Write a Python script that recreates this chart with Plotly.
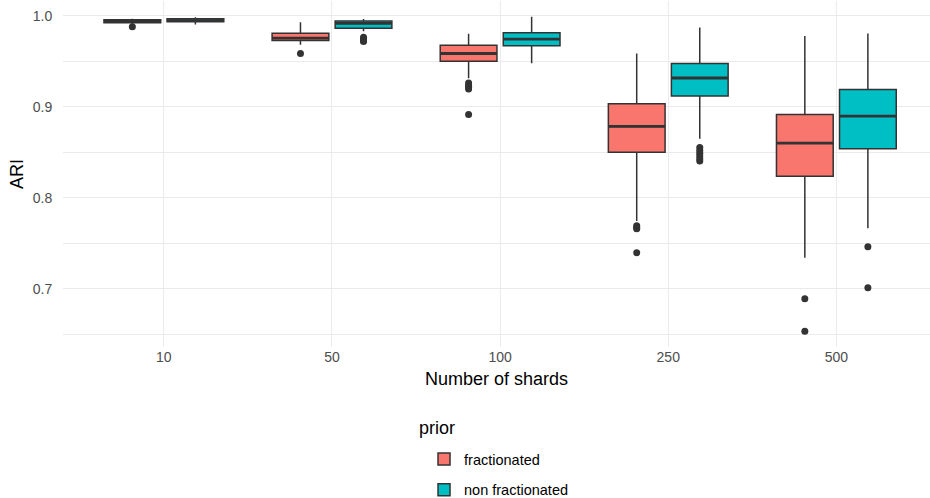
import plotly.graph_objects as go

# ARI summary statistics per number of shards, for each prior
shards = ["10", "50", "100", "250", "500"]

frac_q1 = [0.9922, 0.9727, 0.9500, 0.8501, 0.8236]
frac_median = [0.9937, 0.9754, 0.9585, 0.8784, 0.8600]
frac_q3 = [0.9955, 0.9807, 0.9677, 0.9034, 0.8916]
frac_lower = [0.9905, 0.9680, 0.9313, 0.7747, 0.7343]
frac_upper = [0.9966, 0.9927, 0.9802, 0.9585, 0.9776]
frac_outliers = [
    [0.9879],
    [0.9585],
    [0.9260, 0.9235, 0.9215, 0.9195, 0.8916],
    [0.7695, 0.7675, 0.7660, 0.7398],
    [0.6891, 0.6535],
]

nonfrac_q1 = [0.9933, 0.9862, 0.9669, 0.9118, 0.8538]
nonfrac_median = [0.9947, 0.9917, 0.9743, 0.9316, 0.8897]
nonfrac_q3 = [0.9967, 0.9941, 0.9813, 0.9475, 0.9189]
nonfrac_lower = [0.9903, 0.9829, 0.9478, 0.8648, 0.7667]
nonfrac_upper = [0.9983, 0.9963, 0.9989, 0.9872, 0.9806]
nonfrac_outliers = [
    [],
    [0.9765, 0.9745, 0.9725, 0.9716],
    [],
    [0.8552, 0.8520, 0.8490, 0.8460, 0.8430, 0.8404],
    [0.7464, 0.7012],
]

priors = ["fractionated", "non fractionated"]
colors = ["#F8766D", "#00BFC4"]
line_col = "#333333"

dodge = 0.1875          # half of the 0.75 slot per category
box_w = 0.375 * 0.9     # dodge2 padding of 0.1

fig = go.Figure()

groups = [
    (frac_q1, frac_median, frac_q3, frac_lower, frac_upper, frac_outliers),
    (nonfrac_q1, nonfrac_median, nonfrac_q3, nonfrac_lower, nonfrac_upper, nonfrac_outliers),
]

all_vals = []
for gi, (q1, med, q3, lo, hi, outs) in enumerate(groups):
    off = -dodge if gi == 0 else dodge
    xs = [i + off for i in range(len(shards))]
    fig.add_trace(go.Box(
        x=xs, q1=q1, median=med, q3=q3, lowerfence=lo, upperfence=hi,
        name=priors[gi], legendgroup=priors[gi],
        fillcolor=colors[gi], line=dict(color=line_col, width=1.5),
        width=box_w, whiskerwidth=0, boxpoints=False, hoverinfo="skip",
    ))
    # thicker median bars
    mx, my = [], []
    for x, m in zip(xs, med):
        mx += [x - box_w / 2, x + box_w / 2, None]
        my += [m, m, None]
    fig.add_trace(go.Scatter(
        x=mx, y=my, mode="lines", line=dict(color=line_col, width=2.8),
        showlegend=False, legendgroup=priors[gi], hoverinfo="skip",
    ))
    # outlying observations
    ox, oy = [], []
    for x, vals in zip(xs, outs):
        ox += [x] * len(vals)
        oy += vals
    fig.add_trace(go.Scatter(
        x=ox, y=oy, mode="markers",
        marker=dict(color=line_col, size=7),
        showlegend=False, legendgroup=priors[gi], hoverinfo="skip",
    ))
    all_vals += lo + hi + oy

ymin, ymax = min(all_vals), max(all_vals)
pad = 0.05 * (ymax - ymin)

grid = "#EBEBEB"
fig.update_layout(
    width=930, height=498,
    margin=dict(l=63, r=0, t=1, b=151, autoexpand=False),
    paper_bgcolor="white", plot_bgcolor="white",
    font=dict(family="Liberation Sans, Arial, sans-serif", color="black"),
    boxmode="overlay",
    showlegend=True,
    legend=dict(
        font=dict(size=14.5, color="black"),
        orientation="v", traceorder="grouped", tracegroupgap=9,
        x=0.4164, xanchor="left", y=-0.2775, yanchor="top",
        bgcolor="rgba(0,0,0,0)",
    ),
    annotations=[dict(
        text="prior", xref="paper", yref="paper", x=0.408, y=-0.234,
        xanchor="left", yanchor="middle", showarrow=False,
        font=dict(size=18, color="black"),
    )],
    xaxis=dict(
        range=[-0.6, 4.557],
        tickvals=list(range(len(shards))), ticktext=shards,
        tickfont=dict(size=14, color="#4D4D4D"),
        ticks="",
        showgrid=True, gridcolor=grid, gridwidth=1.1,
        zeroline=False, showline=False,
        title=dict(text="Number of shards", font=dict(size=18, color="black"), standoff=8),
    ),
    yaxis=dict(
        range=[ymin - pad, ymax + pad],
        tickvals=[0.7, 0.8, 0.9, 1.0], ticktext=["0.7", "0.8", "0.9", "1.0"],
        tickfont=dict(size=14, color="#4D4D4D"),
        ticks="outside", ticklen=7, tickcolor="rgba(0,0,0,0)",
        showgrid=True, gridcolor=grid, gridwidth=1.1,
        minor=dict(tickvals=[0.65, 0.75, 0.85, 0.95], showgrid=True,
                   gridcolor=grid, gridwidth=0.8, ticks=""),
        zeroline=False, showline=False,
        title=dict(text="ARI", font=dict(size=18, color="black"), standoff=4),
    ),
)

fig.write_html("out.html")
